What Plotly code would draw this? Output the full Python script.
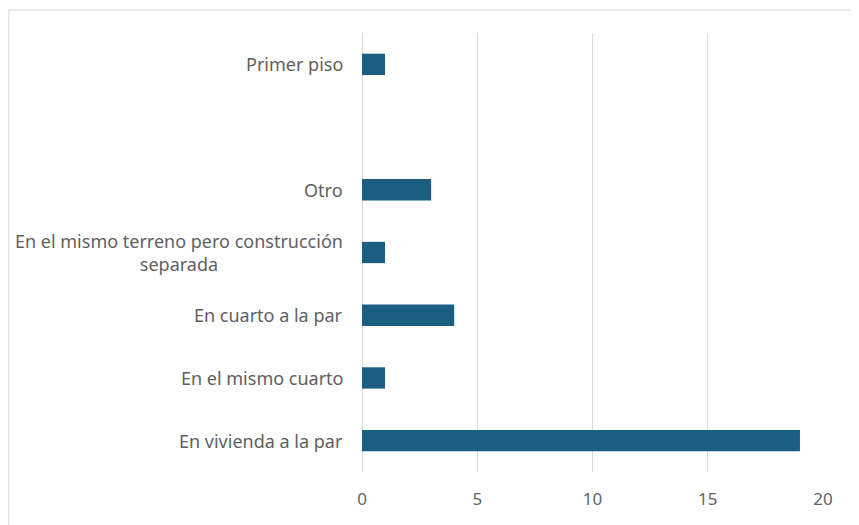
import plotly.graph_objects as go

categories = [
    "En vivienda a la par",
    "En el mismo cuarto",
    "En cuarto a la par",
    "En el mismo terreno pero construcción<br>separada",
    "Otro",
    " ",
    "Primer piso",
]
values = [19, 1, 4, 1, 3, None, 1]

BAR = "#1b5e82"
TXT = "#5f5f5f"
FONT = "Noto Sans"

fig = go.Figure(
    go.Bar(
        x=values,
        y=categories,
        orientation="h",
        marker=dict(color=BAR, line=dict(width=0)),
        hoverinfo="x+y",
    )
)

# category labels as annotations so the wrapped one is centred like the original
for cat in categories:
    fig.add_annotation(
        x=0, xref="paper", y=cat, yref="y",
        text=cat, showarrow=False,
        xanchor="right", align="center", xshift=-17,
        font=dict(family=FONT, size=18, color=TXT),
    )

# light frame round the chart
fig.add_shape(
    type="rect", xref="paper", yref="paper",
    x0=-0.766, x1=1.2, y0=-0.3, y1=1.0524,
    line=dict(color="#d9d9d9", width=1), layer="below",
)

fig.update_layout(
    width=851, height=517,
    margin=dict(l=354, r=36, t=25, b=53),
    paper_bgcolor="white",
    plot_bgcolor="white",
    bargap=0.66,
    showlegend=False,
    xaxis=dict(
        range=[0, 20],
        tickvals=[0, 5, 10, 15, 20],
        showgrid=True, gridcolor="#d9d9d9", gridwidth=1,
        zeroline=True, zerolinecolor="#d9d9d9", zerolinewidth=1,
        showline=False,
        ticks="", ticklabelstandoff=15,
        tickfont=dict(family=FONT, size=17, color="#646464"),
    ),
    yaxis=dict(
        categoryorder="array", categoryarray=categories,
        showticklabels=False, showgrid=False,
        zeroline=False, showline=False, ticks="",
    ),
)

fig.write_html("out.html")
